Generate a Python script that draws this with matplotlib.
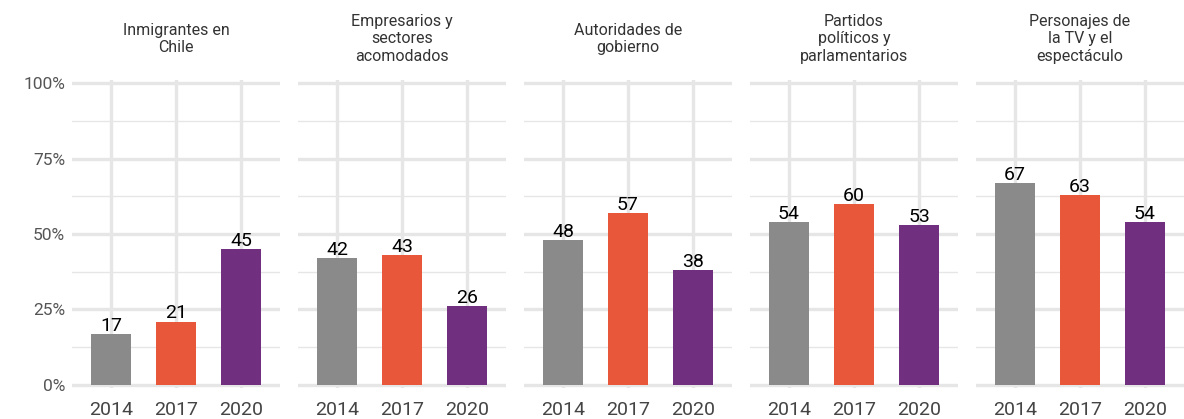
import matplotlib
matplotlib.use("Agg")
import matplotlib.pyplot as plt
import numpy as np

plt.rcParams['font.family'] = ['Roboto', 'DejaVu Sans']

panels = ["Inmigrantes en\nChile",
          "Empresarios y\nsectores\nacomodados",
          "Autoridades de\ngobierno",
          "Partidos\npolíticos y\nparlamentarios",
          "Personajes de\nla TV y el\nespectáculo"]
years = ["2014", "2017", "2020"]
v2014 = [17, 42, 48, 54, 67]
v2017 = [21, 43, 57, 60, 63]
v2020 = [45, 26, 38, 53, 54]
colors = ["#8a8a8a", "#e8573a", "#70307f"]

W, H = 1184, 419
fig = plt.figure(figsize=(W / 100, H / 100), dpi=100)

x = np.arange(3)
left0, pw, gap = 72, 208, 18
for i, title in enumerate(panels):
    l = left0 + i * (pw + gap)
    ax = fig.add_axes([l / W, 1 - 388 / H, pw / W, (388 - 80) / H])
    vals = [v2014[i], v2017[i], v2020[i]]
    ax.bar(x, vals, width=0.62, color=colors, zorder=3)
    for xi, v in zip(x, vals):
        ax.text(xi, v - 0.3, str(v), ha='center', va='bottom', fontsize=14,
                color='black', zorder=4)
    ax.set_xlim(-0.6, 2.6)
    ax.set_ylim(-1, 101)
    ax.set_xticks(x)
    ax.set_xticklabels(years, fontsize=14, color='#444444')
    ax.set_yticks([0, 25, 50, 75, 100])
    ax.set_yticks([12.5, 37.5, 62.5, 87.5], minor=True)
    if i == 0:
        ax.set_yticklabels(["0%", "25%", "50%", "75%", "100%"], fontsize=12.5, color='#555555')
    else:
        ax.set_yticklabels([])
    ax.tick_params(axis='y', length=0, which='both', pad=5)
    ax.tick_params(axis='x', length=0, which='both', pad=9)
    ax.grid(axis='y', which='major', color='#e6e6e6', lw=2.4, zorder=0)
    ax.grid(axis='y', which='minor', color='#e6e6e6', lw=1.0, zorder=0)
    ax.grid(axis='x', which='major', color='#e6e6e6', lw=2.4, zorder=0)
    for s in ax.spines.values():
        s.set_visible(False)
    ax.text(0.5, 1 + (80 - 39) / (388 - 80), title, transform=ax.transAxes,
            ha='center', va='center', fontsize=11.5, color='#333333', linespacing=1.2)

fig.savefig("out.png", dpi=100)
